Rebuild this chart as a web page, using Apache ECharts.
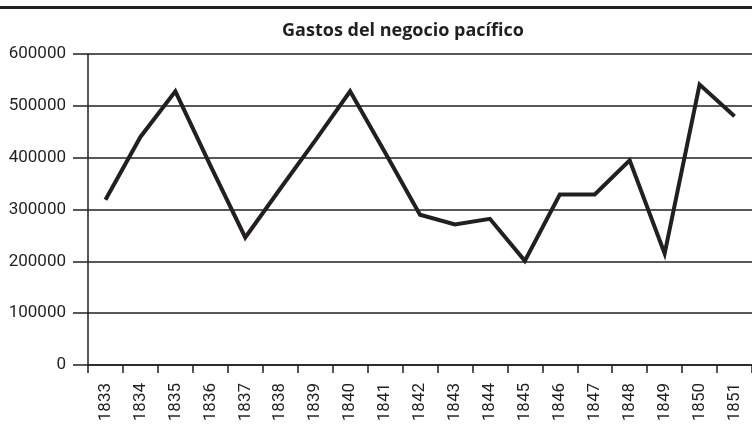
<!DOCTYPE html>
<html>
<head>
<meta charset="utf-8">
<script src="https://cdn.jsdelivr.net/npm/echarts@6/dist/echarts.min.js"></script>
<style>html,body{margin:0;padding:0;background:#fff}#c{width:752px;height:435px}</style>
</head>
<body>
<div id="c"></div>
<script>
var titleText = 'Gastos del negocio pacífico';
var years = ['1833','1834','1835','1836','1837','1838','1839','1840','1841','1842','1843','1844','1845','1846','1847','1848','1849','1850','1851'];
var gastos = [319000, 440000, 528000, 385000, 246000, 340000, 433000, 528000, 410000, 290000, 271000, 282000, 201000, 329000, 329000, 395000, 215000, 541000, 480000];
var yTicks = [0, 100000, 200000, 300000, 400000, 500000, 600000];

var ink = '#231f20';
var chart = echarts.init(document.getElementById('c'), null, {renderer: 'canvas'});
chart.setOption({
  animation: false,
  backgroundColor: '#fff',
  graphic: [
    {type: 'rect', shape: {x: 0, y: 6, width: 752, height: 3}, style: {fill: ink}},
    {type: 'text', x: 403, y: 31, style: {text: titleText, font: 'bold 18px "Open Sans"', fill: ink, align: 'center', verticalAlign: 'middle'}}
  ],
  grid: {left: 88, right: -3, top: 54, bottom: 70},
  xAxis: {
    type: 'category',
    data: years,
    boundaryGap: true,
    axisLine: {lineStyle: {color: ink, width: 1.5}},
    axisTick: {show: true, length: 8, lineStyle: {color: ink, width: 1.5}},
    axisLabel: {rotate: 90, margin: 18, color: ink, fontFamily: 'Roboto', fontSize: 17, interval: 0}
  },
  yAxis: {
    type: 'value',
    min: yTicks[0],
    max: yTicks[yTicks.length - 1],
    interval: yTicks[1] - yTicks[0],
    axisLine: {show: true, lineStyle: {color: ink, width: 1.5}},
    axisTick: {show: true, length: 15, lineStyle: {color: ink, width: 1.5}},
    axisLabel: {margin: 22, color: ink, fontFamily: 'Roboto', fontSize: 17, formatter: function (v) { return String(v); }},
    splitLine: {show: true, lineStyle: {color: ink, width: 1.5}}
  },
  series: [{
    type: 'line',
    data: gastos,
    symbol: 'none',
    lineStyle: {color: ink, width: 4, join: 'miter', miterLimit: 10}
  }]
});
</script>
</body>
</html>
